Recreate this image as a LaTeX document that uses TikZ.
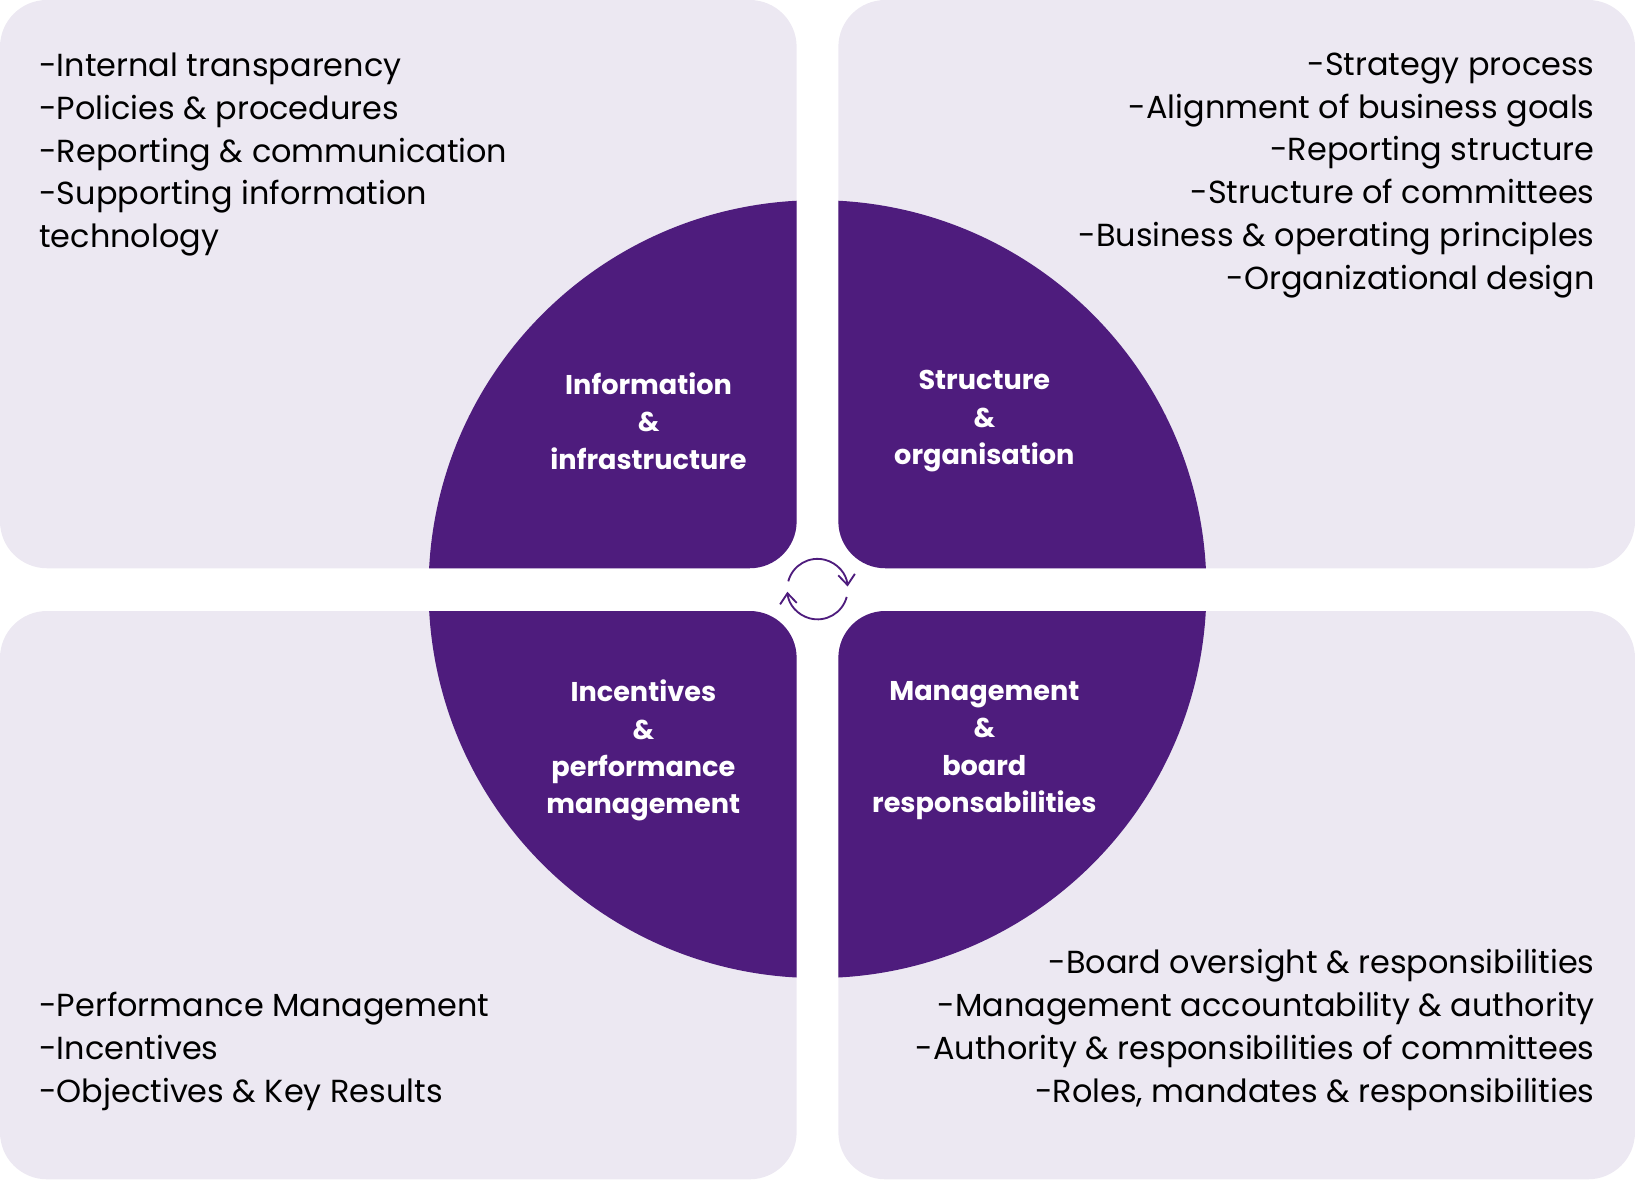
\documentclass[tikz,border=0pt]{standalone}
\usepackage{fontspec}
\setmainfont{Poppins}
\usetikzlibrary{arrows.meta}
\definecolor{boxbg}{HTML}{ECE8F2}
\definecolor{deeppurple}{HTML}{4E1C7D}
\tikzset{
  box/.style={fill=boxbg, rounded corners=4.5mm},
  quad/.style={fill=deeppurple},
  listtext/.style={inner sep=0pt, font=\fontsize{8.7}{11.67}\selectfont},
  quadlabel/.style={align=center, text=white, inner sep=0pt, font=\fontsize{7.4}{10.2}\selectfont\bfseries},
  cyclearrow/.style={deeppurple, line width=0.5pt, -{Straight Barb[length=1mm, width=1.6mm]}},
}
\begin{document}
\begin{tikzpicture}[x=0.01cm, y=0.01cm]
\useasboundingbox (0,0) rectangle (1568,1131);

% Background boxes
\fill[box] (0,586) rectangle (764,1131);
\fill[box] (804,586) rectangle (1568,1131);
\fill[box] (0,0) rectangle (764,545);
\fill[box] (804,0) rectangle (1568,545);

% Circle quadrants
\begin{scope}
\clip (0,1131) -- (764,1131) -- (764,631) arc[start angle=0, end angle=-90, radius=45] -- (0,586) -- cycle;
\fill[quad] (784,566) circle (373);
\end{scope}
\begin{scope}
\clip (1568,1131) -- (804,1131) -- (804,631) arc[start angle=180, end angle=270, radius=45] -- (1568,586) -- cycle;
\fill[quad] (784,566) circle (373);
\end{scope}
\begin{scope}
\clip (0,0) -- (764,0) -- (764,500) arc[start angle=0, end angle=90, radius=45] -- (0,545) -- cycle;
\fill[quad] (784,566) circle (373);
\end{scope}
\begin{scope}
\clip (1568,0) -- (804,0) -- (804,500) arc[start angle=180, end angle=90, radius=45] -- (1568,545) -- cycle;
\fill[quad] (784,566) circle (373);
\end{scope}

% Cycle icon
\coordinate (hub) at (784,566);
\draw[cyclearrow] (hub) ++(165:29) arc[start angle=165, end angle=5, radius=29];
\draw[cyclearrow] (hub) ++(-15:29) arc[start angle=-15, end angle=-175, radius=29];

% Quadrant labels
\node[quadlabel] (info) at (622,727) {Information\\\&\\infrastructure};
\node[quadlabel] (struct) at (944,727) {Structure\\\&\\organisation};
\node[quadlabel] (incent) at (617,411) {Incentives\\\&\\performance\\management};
\node[quadlabel] (mgmt) at (944,411) {Management\\\&\\board\\responsabilities};

% Lists
\node[listtext, anchor=north west, align=left] (infolist) at (37,1081) {-Internal transparency\\-Policies \& procedures\\-Reporting \& communication\\-Supporting information\\technology};
\node[listtext, anchor=north east, align=right] (structlist) at (1530,1081) {-Strategy process\\-Alignment of business goals\\-Reporting structure\\-Structure of committees\hspace{1.3mm}\\-Business \& operating principles\\-Organizational design\hspace{1.3mm}};
\node[listtext, anchor=north west, align=left] (incentlist) at (37,180) {-Performance Management\\-Incentives\\-Objectives \& Key Results};
\node[listtext, anchor=north east, align=right] (mgmtlist) at (1530,221) {-Board oversight \& responsibilities\\-Management accountability \& authority\hspace{1.3mm}\\-Authority \& responsibilities of committees\\-Roles, mandates \& responsibilities};
\end{tikzpicture}
\end{document}
